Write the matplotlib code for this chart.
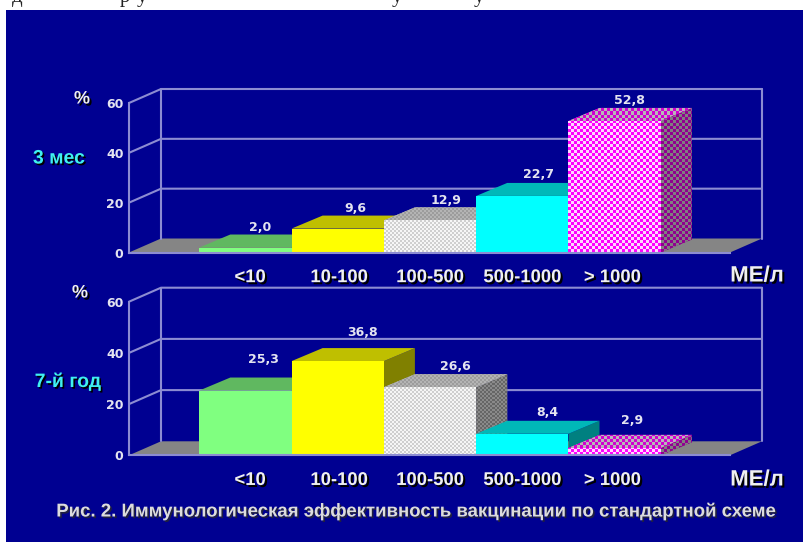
import numpy as np
import matplotlib
matplotlib.use("Agg")
import matplotlib.pyplot as plt
import matplotlib.patheffects as pe
from matplotlib.patches import Polygon, Rectangle

W, H = 804, 542

# Data
categories = ["<10", "10-100", "100-500", "500-1000", "> 1000"]
values_3m = [2.0, 9.6, 12.9, 22.7, 52.8]
values_7y = [25.3, 36.8, 26.6, 8.4, 2.9]
y_ticks = [0, 20, 40, 60]

# Label displacement from the back edge of each bar top, in pixels
label_shift_3m = [(-1, 7), (2, 7), (0, 7), (1, 8), (-1, 7)]
label_shift_7y = [(2, 18), (9, 16), (10, 8), (9, 8), (2, 14)]
# Category captions sit slightly off the bar centres
caption_shift = [0.05, 0.015, 0.0, 0.0, -0.025]

BLUE = "#000091"
GRID = "#8C8CD2"
FLOOR = "#858585"
SOFT = "#E4E4F0"

# front, top and side faces; a pair of colours makes a textured face
faces = [
    {"front": "#80FF80", "top": "#60B860", "side": "#409040", "cell": 0},
    {"front": "#FFFF00", "top": "#BFBF00", "side": "#808000", "cell": 0},
    {"front": ("#F6F6F6", "#CFCFCF"), "top": ("#B4B4B4", "#9C9C9C"),
     "side": ("#8A8A8A", "#666666"), "cell": 2},
    {"front": "#00FFFF", "top": "#00B8B8", "side": "#008080", "cell": 0},
    {"front": ("#FF00FF", "#FFD8FF"), "top": ("#D000D0", "#B8B8B8"),
     "side": ("#900090", "#808080"), "cell": 3},
]


def shadow(dx=1.5, dy=-1.5, colour="black"):
    return [pe.withSimplePatchShadow(offset=(dx, dy), shadow_rgbFace=colour, alpha=1.0)]


def face(ax, verts, paint, cell, zorder):
    """Fill a polygon with one colour or with a checkered texture."""
    if isinstance(paint, str):
        ax.add_patch(Polygon(verts, closed=True, fc=paint, ec="none", zorder=zorder, clip_on=False))
        return
    poly = Polygon(verts, closed=True, fc=paint[0], ec="none", zorder=zorder, clip_on=False)
    ax.add_patch(poly)
    corners = ax.transData.transform(verts)
    (x0, y0), (x1, y1) = corners.min(axis=0), corners.max(axis=0)
    nx = max(int(np.ceil((x1 - x0) / cell)), 1)
    ny = max(int(np.ceil((y1 - y0) / cell)), 1)
    board = np.indices((ny, nx)).sum(axis=0) % 2
    rgb = np.array([matplotlib.colors.to_rgb(c) for c in paint])[board]
    inv = ax.transData.inverted()
    (dx0, dy0) = inv.transform((x0, y0))
    (dx1, dy1) = inv.transform((x0 + nx * cell, y0 + ny * cell))
    im = ax.imshow(rgb, extent=(dx0, dx1, dy0, dy1), origin="lower", aspect="auto",
                   interpolation="nearest", zorder=zorder + 0.1)
    im.set_clip_path(poly)


def panel(base_y, top_y, values, shifts):
    left, right = 129, 730
    bar_px = 92.3
    first_bar = 199.3
    ax = fig.add_axes([left / W, 1 - base_y / H, (right - left) / W, (base_y - top_y) / H])
    ax.set_xlim((left - first_bar) / bar_px - 0.5, (right - first_bar) / bar_px - 0.5)
    ax.set_ylim(0, 60)
    ax.patch.set_visible(False)
    xlo, xhi = ax.get_xlim()
    unit_y = 60 / (base_y - top_y)

    # depth of the box and of the bars, expressed in data units
    box_dx, box_dy = 32 / bar_px, 14 * unit_y
    bar_dx, bar_dy = 31 / bar_px, 13 * unit_y

    # floor
    ax.add_patch(Polygon([(xlo, 0), (xhi, 0), (xhi + box_dx, box_dy), (xlo + box_dx, box_dy)],
                         closed=True, fc=FLOOR, ec="none", zorder=1, clip_on=False))
    # back wall and slanted side lines
    line = dict(color=GRID, lw=1.5, clip_on=False, zorder=1.5, solid_capstyle="round")
    for t in y_ticks[1:]:
        ax.plot([xlo, xlo + box_dx, xhi + box_dx], [t, t + box_dy, t + box_dy], **line)
    top = y_ticks[-1] + box_dy
    ax.plot([xlo + box_dx] * 2, [box_dy, top], **line)
    ax.plot([xhi + box_dx] * 2, [box_dy, top], **line)

    # bars, painted left to right so each front hides its neighbour's side
    z = 2
    for i, (v, st) in enumerate(zip(values, faces)):
        a, b = i - 0.5, i + 0.5
        cell = st["cell"]
        face(ax, [(b, 0), (b + bar_dx, bar_dy), (b + bar_dx, v + bar_dy), (b, v)], st["side"], cell, z)
        face(ax, [(a, v), (b, v), (b + bar_dx, v + bar_dy), (a + bar_dx, v + bar_dy)], st["top"], cell, z + 1)
        face(ax, [(a, 0), (b, 0), (b, v), (a, v)], st["front"], cell, z + 2)
        z += 3

    ax.set_xlim(xlo, xhi)
    ax.set_ylim(0, 60)

    # value labels above the back edge of each bar top
    for i, (v, (sx, sy)) in enumerate(zip(values, shifts)):
        ax.annotate(f"{v:.1f}".replace(".", ","), xy=(i + bar_dx / 2, v + bar_dy),
                    xytext=(sx, sy), textcoords="offset pixels",
                    ha="center", va="center", color=SOFT, fontsize=9,
                    family="DejaVu Sans", weight="bold", zorder=40, annotation_clip=False)

    # axes
    for s in ("top", "right"):
        ax.spines[s].set_visible(False)
    for s in ("left", "bottom"):
        ax.spines[s].set_color(GRID)
        ax.spines[s].set_linewidth(1.5)
        ax.spines[s].set_zorder(30)
    ax.set_yticks(y_ticks)
    ax.set_xticks([i + d for i, d in enumerate(caption_shift)])
    ax.set_xticklabels(categories, family="Liberation Sans", weight="bold", fontsize=13.3,
                       color="#F0F0F0", path_effects=shadow())
    ax.tick_params(axis="x", length=0, pad=12)
    ax.tick_params(axis="y", length=0, pad=4, labelcolor=SOFT, labelsize=9)
    for t in ax.get_yticklabels():
        t.set_family("DejaVu Sans")
        t.set_weight("bold")
    return ax


def px_text(x, y, s, **kw):
    return fig.text(x / W, 1 - y / H, s, **kw)


fig = plt.figure(figsize=(W / 100, H / 100), dpi=100, facecolor="white")
fig.add_artist(Rectangle((6 / W, 0), (W - 6) / W, 1 - 10 / H, transform=fig.transFigure,
                         fc=BLUE, ec="none", zorder=-5))

# lower edge of the line of page text above the slide
for x, g in [(12, "д"), (120, "р"), (137, "у"), (392, "у"), (474, "у")]:
    px_text(x, 2, g, family="Liberation Serif", fontsize=15, color="#222222", va="baseline")

panel(252.5, 103, values_3m, label_shift_3m)
panel(455.3, 301.7, values_7y, label_shift_7y)

bold = dict(family="Liberation Sans", weight="bold", ha="center", va="center")
for y in (276, 480):
    px_text(757, y, "МЕ/л", color="#F0F0F0", fontsize=16, path_effects=shadow(), **bold)
px_text(82, 99, "%", color="#F0F0F0", fontsize=13, path_effects=shadow(), **bold)
px_text(80, 293, "%", color="#F0F0F0", fontsize=13, path_effects=shadow(), **bold)
px_text(59, 159, "3 мес", color="#40F0F0", fontsize=14, path_effects=shadow(1.2, -1.2), **bold)
px_text(68, 382, "7-й год", color="#40F0F0", fontsize=14, path_effects=shadow(1.2, -1.2), **bold)
px_text(415, 511.5, "Рис. 2. Иммунологическая эффективность вакцинации по стандартной схеме",
        color="#DCDCDC", fontsize=13.4, path_effects=shadow(1.2, -1.2, "#202040"), **bold)

fig.savefig("out.png", dpi=100, facecolor="white")
